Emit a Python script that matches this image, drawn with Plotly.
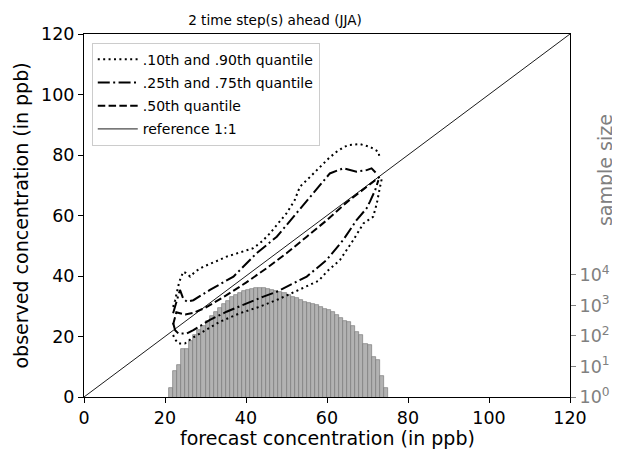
import plotly.graph_objects as go

# ---------------- data ----------------
# histogram of forecast values (sample size per 1-ppb bin, bins 21..74)
bin_left = list(range(21, 75))
sample_size = [2, 7, 11, 38, 38, 69, 108, 157, 218, 318,
               453, 626, 847, 1120, 1436, 1857, 2260, 2630, 2987, 3221,
               3474, 3664, 3750, 3750, 3555, 3221, 2987, 2710, 2512, 2208,
               1944, 1722, 1514, 1303, 1180, 1095, 1038, 914, 768, 712,
               612, 499, 380, 318, 288, 213, 138, 108, 55, 50,
               20, 16, 5, 2]

# conditional quantiles (forecast -> observed)
q10_x = [22.0, 22.5, 23.3, 24.9, 26.6, 29.5, 33.6, 38.5, 43.5, 48.0, 51.7, 55.4,
         57.9, 60.0, 63.2, 66.5, 69.0, 71.4, 72.3, 73.1, 73.5]
q10_y = [20.5, 19.0, 17.7, 17.7, 19.4, 21.6, 24.9, 27.7, 29.9, 32.3, 34.5, 36.7,
         38.4, 41.5, 45.3, 51.9, 57.4, 59.6, 64.0, 69.5, 72.0]

q90_x = [22.0, 22.5, 23.5, 24.5, 25.2, 26.2, 27.5, 29.5, 32.0, 35.2, 38.5, 41.8,
         44.0, 45.9, 48.0, 50.0, 52.0, 53.3, 56.0, 58.3, 60.5, 62.4, 64.0, 65.3,
         68.1, 70.6, 72.7, 73.0]
q90_y = [29.8, 32.0, 38.0, 41.4, 41.0, 39.8, 41.5, 43.1, 44.5, 46.4, 47.8, 49.2,
         51.5, 54.1, 57.5, 60.7, 65.0, 69.5, 73.0, 76.1, 79.0, 81.1, 82.5, 83.3,
         83.6, 82.7, 81.1, 79.0]

q25_x = [22.0, 22.5, 23.3, 25.4, 27.0, 31.1, 35.2, 40.2, 44.3, 47.6, 50.0, 55.0,
         59.9, 64.0, 67.3, 69.8, 70.6, 71.9, 72.7]
q25_y = [24.5, 22.1, 21.0, 21.0, 22.1, 25.5, 28.2, 31.0, 33.2, 34.8, 36.5, 39.8,
         45.3, 51.9, 58.5, 62.4, 64.6, 68.4, 71.7]

q75_x = [22.0, 23.2, 23.7, 24.5, 25.4, 27.0, 31.1, 36.9, 42.6, 47.6, 51.7, 55.8,
         60.7, 64.0, 67.3, 69.8, 71.0, 72.5]
q75_y = [27.7, 33.0, 35.4, 32.5, 31.5, 32.0, 35.4, 39.8, 47.5, 53.0, 59.6, 66.2,
         73.9, 75.6, 74.5, 75.0, 75.6, 73.5]

q50_x = [22.0, 22.8, 23.7, 25.0, 27.0, 30.0, 35.0, 40.0, 45.0, 50.0, 55.0, 60.0,
         65.0, 68.0, 70.0, 72.0, 73.0]
q50_y = [24.0, 28.0, 27.7, 27.3, 27.8, 29.5, 33.5, 37.8, 42.5, 47.5, 53.0, 58.5,
         64.5, 67.5, 69.8, 71.5, 72.8]

ref_x = [0, 120]
ref_y = [0, 120]

axis_ticks = [0, 20, 40, 60, 80, 100, 120]
size_ticks = [1, 10, 100, 1000, 10000]
size_tick_text = ["10<sup>0</sup>", "10<sup>1</sup>", "10<sup>2</sup>",
                  "10<sup>3</sup>", "10<sup>4</sup>"]

# ---------------- figure ----------------
FONT = "DejaVu Sans"
GRAY = "#808080"
LW = 2.0

fig = go.Figure()

fig.add_trace(go.Bar(
    x=[b + 0.5 for b in bin_left], y=sample_size, width=1.0,
    marker=dict(color="#b2b2b2", line=dict(color="#7a7a7a", width=0.7)),
    yaxis="y", xaxis="x", showlegend=False, hoverinfo="skip"))

dot = "2px,3.4px"
dashdot = "12px,3.4px,2px,3.4px"
dash = "7.5px,3.3px"

fig.add_trace(go.Scatter(x=q10_x, y=q10_y, mode="lines", yaxis="y2",
                         line=dict(color="black", width=LW, dash=dot),
                         name=".10th and .90th quantile", legendgroup="a"))
fig.add_trace(go.Scatter(x=q90_x, y=q90_y, mode="lines", yaxis="y2",
                         line=dict(color="black", width=LW, dash=dot),
                         name=".10th and .90th quantile", legendgroup="a", showlegend=False))
fig.add_trace(go.Scatter(x=q25_x, y=q25_y, mode="lines", yaxis="y2",
                         line=dict(color="black", width=LW, dash=dashdot),
                         name=".25th and .75th quantile", legendgroup="b"))
fig.add_trace(go.Scatter(x=q75_x, y=q75_y, mode="lines", yaxis="y2",
                         line=dict(color="black", width=LW, dash=dashdot),
                         name=".25th and .75th quantile", legendgroup="b", showlegend=False))
fig.add_trace(go.Scatter(x=q50_x, y=q50_y, mode="lines", yaxis="y2",
                         line=dict(color="black", width=LW, dash=dash),
                         name=".50th quantile", legendgroup="c"))
fig.add_trace(go.Scatter(x=ref_x, y=ref_y, mode="lines", yaxis="y2",
                         line=dict(color="black", width=0.9),
                         name="reference 1:1", legendgroup="d"))

# page body has an 8px margin -> figure sits at (8, 8) in the window
fig.update_layout(
    width=612, height=444,
    margin=dict(l=76, r=50, t=26, b=55, autoexpand=False),
    paper_bgcolor="white", plot_bgcolor="white",
    font=dict(family=FONT, color="black", size=17),
    bargap=0,
    title=dict(text="2 time step(s) ahead (JJA)", font=dict(size=13.6),
               xref="paper", x=0.393, xanchor="center",
               yref="container", y=1 - 12 / 444, yanchor="middle"),
    xaxis=dict(range=[0, 120], tickvals=axis_ticks, showgrid=False, zeroline=False,
               automargin=False,
               showline=True, linecolor="black", linewidth=1.1, mirror=True,
               ticks="outside", ticklen=5, tickwidth=1.1, tickcolor="black",
               tickfont=dict(size=17.5)),
    yaxis=dict(type="log", range=[0, 11.9], side="right", automargin=False,
               tickvals=size_ticks, ticktext=size_tick_text,
               showgrid=False, zeroline=False, showline=False,
               ticks="outside", ticklen=5, tickwidth=1.1, tickcolor=GRAY,
               tickfont=dict(size=17.5, color=GRAY)),
    yaxis2=dict(range=[0, 120], tickvals=axis_ticks, overlaying="y", side="left",
                automargin=False,
                showgrid=False, zeroline=False,
                showline=True, linecolor="black", linewidth=1.1, mirror=True,
                ticks="outside", ticklen=5, tickwidth=1.1, tickcolor="black",
                tickfont=dict(size=17.5)),
    legend=dict(x=0.016, y=0.976, xanchor="left", yanchor="top",
                bgcolor="white", bordercolor="#cccccc", borderwidth=1,
                font=dict(size=14), traceorder="grouped", tracegroupgap=2,
                itemwidth=40),
    annotations=[
        dict(text="sample size", xref="paper", yref="paper",
             x=1.072, y=0.625, xanchor="center", yanchor="middle",
             textangle=-90, showarrow=False, font=dict(size=19, color=GRAY)),
        dict(text="forecast concentration (in ppb)", xref="paper", yref="paper",
             x=0.5, y=-41 / 363, xanchor="center", yanchor="middle",
             showarrow=False, font=dict(size=19)),
        dict(text="observed concentration (in ppb)", xref="paper", yref="paper",
             x=-64 / 486, y=0.5, xanchor="center", yanchor="middle",
             textangle=-90, showarrow=False, font=dict(size=19)),
    ],
)

fig.write_html("out.html")
